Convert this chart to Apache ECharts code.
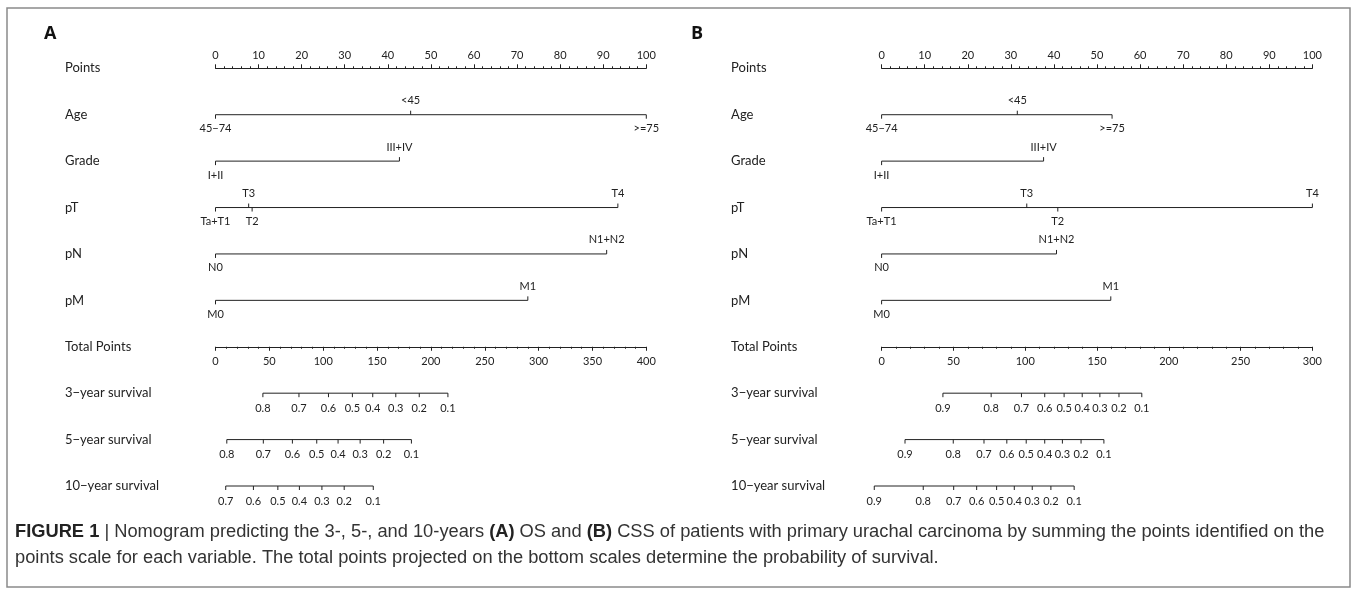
<!DOCTYPE html>
<html>
<head>
<meta charset="utf-8">
<script src="https://cdn.jsdelivr.net/npm/echarts@6/dist/echarts.min.js"></script>
<style>
  html, body { margin: 0; padding: 0; background: #fff; }
  #chart { width: 1357px; height: 594px; }
</style>
</head>
<body>
<div id="chart"></div>
<script>
// rows of the nomogram, top to bottom
var rowNames = ['Points', 'Age', 'Grade', 'pT', 'pN', 'pM', 'Total Points',
  '3\u2212year survival', '5\u2212year survival', '10\u2212year survival'];

// level names of each variable
var ageLevels = ['45\u221274', '<45', '>=75'];
var gradeLevels = ['I+II', 'III+IV'];
var ptLevels = ['Ta+T1', 'T2', 'T3', 'T4'];
var pnLevels = ['N0', 'N1+N2'];
var pmLevels = ['M0', 'M1'];

// (A) OS - points for each level
var osAge = [0, 45.3, 100];
var osGrade = [0, 42.7];
var osPT = [0, 8.5, 7.7, 93.4];
var osPN = [0, 90.8];
var osPM = [0, 72.5];
var osTotalMax = 400;

// (B) CSS - points for each level
var cssAge = [0, 31.5, 53.5];
var cssGrade = [0, 37.6];
var cssPT = [0, 40.9, 33.7, 100];
var cssPN = [0, 40.6];
var cssPM = [0, 53.2];
var cssTotalMax = 300;

// survival scales: probability labels and the total points they sit at
var osSurv = ['0.8', '0.7', '0.6', '0.5', '0.4', '0.3', '0.2', '0.1'];
var os3yr = [44.0, 77.5, 104.9, 127.1, 146.0, 167.4, 189.2, 215.8];
var os5yr = [10.5, 44.4, 71.4, 94.0, 113.8, 134.3, 156.1, 181.9];
var os10Surv = ['0.7', '0.6', '0.5', '0.4', '0.3', '0.2', '0.1'];
var os10yr = [9.5, 35.2, 57.9, 77.9, 98.8, 119.5, 146.5];

var cssSurv = ['0.9', '0.8', '0.7', '0.6', '0.5', '0.4', '0.3', '0.2', '0.1'];
var css3yr = [42.7, 76.3, 97.4, 113.6, 127.1, 139.7, 152.0, 165.3, 181.2];
var css5yr = [16.3, 49.9, 71.3, 87.2, 100.7, 113.6, 125.9, 138.9, 154.8];
var css10yr = [-5.1, 29.0, 50.2, 66.2, 80.1, 92.4, 104.9, 117.9, 134.1];

var INK = '#222';
var FONT = 'Lato';
var chart = echarts.init(document.getElementById('chart'), null, { renderer: 'canvas' });

// variable rows: one segment plus a tick + label per level
// labels alternate below / above along the axis, like rms::nomogram
function variableRows(rows) {
  var data = [], meta = [];
  rows.forEach(function (r) {
    var names = r[0], pts = r[1], row = r[2];
    var lo = Math.min.apply(null, pts), hi = Math.max.apply(null, pts);
    data.push([lo, row]);
    meta.push({ kind: 'seg', x1: hi });
    var order = pts.map(function (v, i) { return i; })
      .sort(function (a, b) { return pts[a] - pts[b]; });
    order.forEach(function (idx, rank) {
      data.push([pts[idx], row]);
      meta.push({ kind: 'tick', text: names[idx], dir: rank % 2 === 0 ? 1 : -1 });
    });
  });
  return { data: data, meta: meta };
}

// survival rows: segment, ticks and labels all below
function survivalRows(rows) {
  var data = [], meta = [];
  rows.forEach(function (r) {
    var labels = r[0], pts = r[1], row = r[2];
    data.push([pts[0], row]);
    meta.push({ kind: 'seg', x1: pts[pts.length - 1] });
    pts.forEach(function (v, i) {
      data.push([v, row]);
      meta.push({ kind: 'tick', text: labels[i], dir: 1 });
    });
  });
  return { data: data, meta: meta };
}

function makeRender(meta, gap) {
  return function (params, api) {
    var m = meta[params.dataIndex];
    var p = api.coord([api.value(0), api.value(1)]);
    if (m.kind === 'seg') {
      var q = api.coord([m.x1, api.value(1)]);
      return {
        type: 'line',
        shape: { x1: p[0], y1: p[1], x2: q[0], y2: q[1] },
        style: { stroke: INK, lineWidth: 1 }
      };
    }
    return {
      type: 'group',
      children: [{
        type: 'line',
        shape: { x1: p[0], y1: p[1], x2: p[0], y2: p[1] + m.dir * 4 },
        style: { stroke: INK, lineWidth: 1 }
      }, {
        type: 'text',
        x: p[0], y: p[1] + m.dir * gap,
        style: {
          text: m.text, fill: INK, fontSize: 11, fontFamily: FONT,
          align: 'center', verticalAlign: 'middle'
        }
      }]
    };
  };
}

var GRID_TOP = 68.3, GRID_H = 417.7, GRID_W = 430.8;
var rowGap = GRID_H / (rowNames.length - 1);

function panel(g, left, totalMax, vars, survs) {
  var grid = { left: left, top: GRID_TOP, width: GRID_W, height: GRID_H };
  var pointsAxis = {
    type: 'value', gridIndex: g, min: 0, max: 100, interval: 10, position: 'top',
    axisLine: { show: true, onZero: false, lineStyle: { color: INK, width: 1 } },
    axisTick: { show: true, length: 4, lineStyle: { color: INK, width: 1 } },
    minorTick: { show: true, splitNumber: 5, length: 2, lineStyle: { color: INK, width: 1 } },
    axisLabel: { margin: 7, fontSize: 11, color: INK, fontFamily: FONT },
    splitLine: { show: false }
  };
  var totalAxis = {
    type: 'value', gridIndex: g, min: 0, max: totalMax, interval: 50, position: 'bottom',
    offset: -rowGap * 3,
    axisLine: { show: true, onZero: false, lineStyle: { color: INK, width: 1 } },
    axisTick: { show: true, length: 4, lineStyle: { color: INK, width: 1 } },
    minorTick: { show: true, splitNumber: 5, length: 2, lineStyle: { color: INK, width: 1 } },
    axisLabel: { margin: 9, fontSize: 11, color: INK, fontFamily: FONT },
    splitLine: { show: false }
  };
  var yAxis = {
    type: 'category', gridIndex: g, data: rowNames, inverse: true, boundaryGap: false,
    axisLine: { show: false }, axisTick: { show: false },
    axisLabel: { interval: 0, margin: 150.5, align: 'left', fontSize: 13, color: INK, fontFamily: FONT },
    splitLine: { show: false }
  };
  var v = variableRows(vars), s = survivalRows(survs);
  var series = [{
    type: 'custom', xAxisIndex: g * 2, yAxisIndex: g, data: v.data,
    renderItem: makeRender(v.meta, 14), silent: true
  }, {
    type: 'custom', xAxisIndex: g * 2 + 1, yAxisIndex: g, data: s.data,
    renderItem: makeRender(s.meta, 15), silent: true
  }];
  return { grid: grid, xAxis: [pointsAxis, totalAxis], yAxis: yAxis, series: series };
}

var A = panel(0, 215.5, osTotalMax, [
  [ageLevels, osAge, 1], [gradeLevels, osGrade, 2], [ptLevels, osPT, 3],
  [pnLevels, osPN, 4], [pmLevels, osPM, 5]
], [
  [osSurv, os3yr, 7], [osSurv, os5yr, 8], [os10Surv, os10yr, 9]
]);
var B = panel(1, 881.6, cssTotalMax, [
  [ageLevels, cssAge, 1], [gradeLevels, cssGrade, 2], [ptLevels, cssPT, 3],
  [pnLevels, cssPN, 4], [pmLevels, cssPM, 5]
], [
  [cssSurv, css3yr, 7], [cssSurv, css5yr, 8], [cssSurv, css10yr, 9]
]);

var caption = '{b|FIGURE 1} | Nomogram predicting the 3-, 5-, and 10-years {b|(A)} OS and {b|(B)} CSS of patients with primary urachal carcinoma by summing the points identified on the\n' +
  'points scale for each variable. The total points projected on the bottom scales determine the probability of survival.';

chart.setOption({
  animation: false,
  backgroundColor: '#fff',
  grid: [A.grid, B.grid],
  xAxis: A.xAxis.concat(B.xAxis),
  yAxis: [A.yAxis, B.yAxis],
  series: A.series.concat(B.series),
  graphic: [{
    type: 'rect', shape: { x: 7, y: 8, width: 1343, height: 579 },
    style: { fill: null, stroke: '#8a8a8a', lineWidth: 1.5 }, silent: true
  }, {
    type: 'text', x: 44, y: 34,
    style: { text: 'A', fontSize: 18, fontWeight: 'bold', fontFamily: 'Open Sans', fill: '#111', verticalAlign: 'middle' }
  }, {
    type: 'text', x: 691, y: 34,
    style: { text: 'B', fontSize: 18, fontWeight: 'bold', fontFamily: 'Open Sans', fill: '#111', verticalAlign: 'middle' }
  }, {
    type: 'text', x: 15, y: 519,
    style: {
      text: caption, fill: '#333', fontSize: 18.3, lineHeight: 26,
      fontFamily: 'Liberation Sans',
      rich: {
        b: { fontWeight: 'bold', fill: '#222', fontSize: 18.3, lineHeight: 26,
             fontFamily: 'Liberation Sans' }
      }
    }
  }]
});
</script>
</body>
</html>
